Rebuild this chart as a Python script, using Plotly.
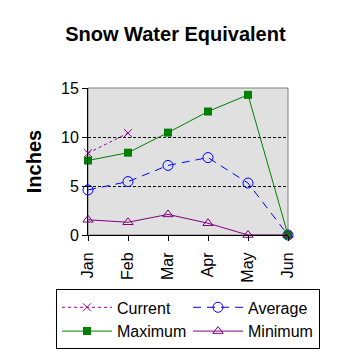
import plotly.graph_objects as go

months = ["Jan", "Feb", "Mar", "Apr", "May", "Jun"]
current = [8.35, 10.4]
average = [4.6, 5.45, 7.1, 7.9, 5.3, 0.0]
maximum = [7.6, 8.4, 10.45, 12.6, 14.3, 0.0]
minimum = [1.55, 1.3, 2.1, 1.2, 0.0, 0.0]

FONT = "Liberation Sans, Arial, sans-serif"

fig = go.Figure()
fig.add_trace(go.Scatter(x=months[:len(current)], y=current, name="Current",
    mode="lines+markers", line=dict(color="#990099", width=1, dash="dot"),
    marker=dict(symbol="x-thin", size=8, line=dict(color="#990099", width=1))))
fig.add_trace(go.Scatter(x=months, y=average, name="Average",
    mode="lines+markers", line=dict(color="#0000ff", width=1, dash="8px,6px"),
    marker=dict(symbol="circle-open", size=10, color="#0000ff", line=dict(width=1))))
fig.add_trace(go.Scatter(x=months, y=maximum, name="Maximum",
    mode="lines+markers", line=dict(color="#008000", width=1),
    marker=dict(symbol="square", size=8, color="#008000")))
fig.add_trace(go.Scatter(x=months, y=minimum, name="Minimum",
    mode="lines+markers", line=dict(color="#800080", width=1),
    marker=dict(symbol="triangle-up-open", size=9, color="#800080", line=dict(width=1))))
fig.update_traces(cliponaxis=False)

fig.update_layout(
    width=358, height=358,
    margin=dict(l=88, r=70, t=88, b=123, autoexpand=False),
    paper_bgcolor="white", plot_bgcolor="#e0e0e0",
    font=dict(family=FONT, size=16, color="black"),
    title=dict(text="<b>Snow Water Equivalent</b>", x=0.49, xanchor="center",
               y=0.905, yanchor="middle", font=dict(size=20)),
    showlegend=True,
    legend=dict(orientation="h", x=-0.16, xanchor="left", y=-0.37, yanchor="top",
                bordercolor="black", borderwidth=1, bgcolor="white",
                entrywidth=66, entrywidthmode="pixels", itemwidth=50,
                font=dict(size=16), tracegroupgap=0),
)
fig.update_xaxes(type="category", range=[0, 5], tickangle=-90, showline=True,
                 linecolor="black", ticks="outside", ticklen=5, tickcolor="black",
                 ticklabelstandoff=5,
                 showgrid=False, mirror=False, tickfont=dict(size=16))
fig.update_yaxes(range=[0, 15], tickvals=[0, 5, 10, 15], showline=True, linecolor="black",
                 ticks="outside", ticklen=5, tickcolor="black", gridcolor="black",
                 griddash="3px,2px", gridwidth=1, zeroline=False, tickfont=dict(size=16),
                 title=dict(text="<b>Inches</b>", font=dict(size=20), standoff=14))
fig.add_shape(type="rect", xref="paper", yref="paper", x0=0, x1=1, y0=0, y1=1,
              line=dict(color="#808080", width=1), layer="below")
fig.write_html("out.html", config={"displayModeBar": False},
               post_script="document.body.style.margin='0';")
